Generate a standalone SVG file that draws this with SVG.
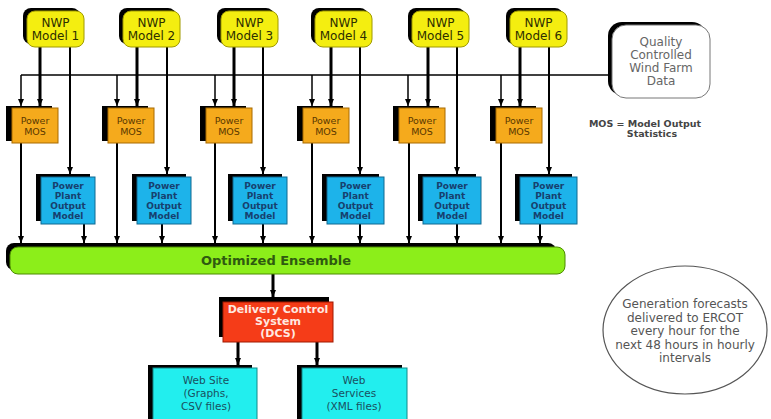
<svg xmlns="http://www.w3.org/2000/svg" width="771" height="419" viewBox="0 0 771 419">
<defs>
<marker id="ah" markerWidth="7" markerHeight="6" refX="7" refY="3" orient="auto" markerUnits="userSpaceOnUse">
<path d="M0,0 L7,3 L0,6 z" fill="#000"/>
</marker>
</defs>
<style>
.sh{fill:#000}
.nwp{fill:#f4ee10;stroke:#a09a00;stroke-width:1}
.mos{fill:#f5aa1c;stroke:#a86a00;stroke-width:1}
.ppo{fill:#1db3ea;stroke:#106890;stroke-width:1}
.ens{fill:#8cee1a;stroke:#4c8a00;stroke-width:1}
.dcs{fill:#f53c18;stroke:#a01800;stroke-width:1}
.web{fill:#22eeee;stroke:#108a8a;stroke-width:1}
.qc{fill:#fff;stroke:#777;stroke-width:1}
text{font-family:"DejaVu Sans","Liberation Sans",sans-serif;text-anchor:middle}
.tn{font-size:12px;fill:#2e2e00}
.tm{font-size:9.5px;fill:#5a3800}
.tp{font-size:9px;font-weight:bold;fill:#17406e}
.te{font-size:13px;font-weight:bold;fill:#2f5a10}
.td{font-size:11px;font-weight:bold;fill:#ffe8e0}
.tw{font-size:10.5px;fill:#1a5060}
.tq{font-size:12px;fill:#666}
.tg{font-size:12px;fill:#555}
.tk{font-size:9.5px;font-weight:bold;fill:#444}
.c{fill:none;stroke:#000;stroke-width:2}
.ct{fill:none;stroke:#000;stroke-width:3}
.cb{fill:none;stroke:#000;stroke-width:1.5}
</style>

<g id="connectors">
<!-- bus -->
<path class="cb" d="M21,75 H612"/>
<path class="cb" d="M21,75 V106" marker-end="url(#ah)"/>
<path class="cb" d="M117,75 V106" marker-end="url(#ah)"/>
<path class="cb" d="M215,75 V106" marker-end="url(#ah)"/>
<path class="cb" d="M312,75 V106" marker-end="url(#ah)"/>
<path class="cb" d="M408,75 V106" marker-end="url(#ah)"/>
<path class="cb" d="M501,75 V106" marker-end="url(#ah)"/>
<!-- NWP to MOS -->
<path class="ct" d="M40,47 V106" marker-end="url(#ah)"/>
<path class="ct" d="M137,47 V106" marker-end="url(#ah)"/>
<path class="ct" d="M234,47 V106" marker-end="url(#ah)"/>
<path class="ct" d="M331,47 V106" marker-end="url(#ah)"/>
<path class="ct" d="M428,47 V106" marker-end="url(#ah)"/>
<path class="ct" d="M520,47 V106" marker-end="url(#ah)"/>
<!-- NWP to PPO -->
<path class="c" d="M70,47 V174" marker-end="url(#ah)"/>
<path class="c" d="M167,47 V174" marker-end="url(#ah)"/>
<path class="c" d="M263,47 V174" marker-end="url(#ah)"/>
<path class="c" d="M360,47 V174" marker-end="url(#ah)"/>
<path class="c" d="M457,47 V174" marker-end="url(#ah)"/>
<path class="c" d="M549,47 V174" marker-end="url(#ah)"/>
<!-- MOS to ensemble -->
<path class="c" d="M21,143 V243" marker-end="url(#ah)"/>
<path class="c" d="M117,143 V243" marker-end="url(#ah)"/>
<path class="c" d="M215,143 V243" marker-end="url(#ah)"/>
<path class="c" d="M312,143 V243" marker-end="url(#ah)"/>
<path class="c" d="M409,143 V243" marker-end="url(#ah)"/>
<path class="c" d="M501,143 V243" marker-end="url(#ah)"/>
<!-- PPO to ensemble -->
<path class="c" d="M84,224 V243" marker-end="url(#ah)"/>
<path class="c" d="M162,224 V243" marker-end="url(#ah)"/>
<path class="c" d="M263,224 V243" marker-end="url(#ah)"/>
<path class="c" d="M360,224 V243" marker-end="url(#ah)"/>
<path class="c" d="M457,224 V243" marker-end="url(#ah)"/>
<path class="c" d="M540,224 V243" marker-end="url(#ah)"/>
<!-- ensemble to DCS -->
<path class="ct" d="M273,273 V297" marker-end="url(#ah)"/>
<!-- DCS to web -->
<path class="ct" d="M238,342 V365" marker-end="url(#ah)"/>
<path class="ct" d="M317,342 V365" marker-end="url(#ah)"/>
</g>

<g id="nwp1"><rect class="sh" x="23" y="8" width="57" height="36" rx="8"/><rect class="nwp" x="27" y="11" width="57" height="36" rx="8"/><text class="tn" x="55.5" y="27">NWP</text><text class="tn" x="55.5" y="40">Model 1</text></g>
<g id="nwp2"><rect class="sh" x="119" y="8" width="57" height="36" rx="8"/><rect class="nwp" x="123" y="11" width="57" height="36" rx="8"/><text class="tn" x="151.5" y="27">NWP</text><text class="tn" x="151.5" y="40">Model 2</text></g>
<g id="nwp3"><rect class="sh" x="217" y="8" width="57" height="36" rx="8"/><rect class="nwp" x="221" y="11" width="57" height="36" rx="8"/><text class="tn" x="249.5" y="27">NWP</text><text class="tn" x="249.5" y="40">Model 3</text></g>
<g id="nwp4"><rect class="sh" x="311" y="8" width="57" height="36" rx="8"/><rect class="nwp" x="315" y="11" width="57" height="36" rx="8"/><text class="tn" x="343.5" y="27">NWP</text><text class="tn" x="343.5" y="40">Model 4</text></g>
<g id="nwp5"><rect class="sh" x="408" y="8" width="57" height="36" rx="8"/><rect class="nwp" x="412" y="11" width="57" height="36" rx="8"/><text class="tn" x="440.5" y="27">NWP</text><text class="tn" x="440.5" y="40">Model 5</text></g>
<g id="nwp6"><rect class="sh" x="506" y="8" width="57" height="36" rx="8"/><rect class="nwp" x="510" y="11" width="57" height="36" rx="8"/><text class="tn" x="538.5" y="27">NWP</text><text class="tn" x="538.5" y="40">Model 6</text></g>

<g id="qc"><rect class="sh" x="608" y="22" width="98" height="73" rx="14"/><rect class="qc" x="612" y="25" width="98" height="73" rx="14"/><text class="tq" x="661" y="46">Quality</text><text class="tq" x="661" y="59">Controlled</text><text class="tq" x="661" y="72">Wind Farm</text><text class="tq" x="661" y="85">Data</text></g>

<g id="mos1"><rect class="sh" x="6" y="106" width="46" height="35"/><rect class="mos" x="12" y="108" width="46" height="35"/><text class="tm" x="35" y="124">Power</text><text class="tm" x="35" y="135">MOS</text></g>
<g id="mos2"><rect class="sh" x="102" y="106" width="46" height="35"/><rect class="mos" x="108" y="108" width="46" height="35"/><text class="tm" x="131" y="124">Power</text><text class="tm" x="131" y="135">MOS</text></g>
<g id="mos3"><rect class="sh" x="200" y="106" width="46" height="35"/><rect class="mos" x="206" y="108" width="46" height="35"/><text class="tm" x="229" y="124">Power</text><text class="tm" x="229" y="135">MOS</text></g>
<g id="mos4"><rect class="sh" x="297" y="106" width="46" height="35"/><rect class="mos" x="303" y="108" width="46" height="35"/><text class="tm" x="326" y="124">Power</text><text class="tm" x="326" y="135">MOS</text></g>
<g id="mos5"><rect class="sh" x="393" y="106" width="46" height="35"/><rect class="mos" x="399" y="108" width="46" height="35"/><text class="tm" x="422" y="124">Power</text><text class="tm" x="422" y="135">MOS</text></g>
<g id="mos6"><rect class="sh" x="490" y="106" width="46" height="35"/><rect class="mos" x="496" y="108" width="46" height="35"/><text class="tm" x="519" y="124">Power</text><text class="tm" x="519" y="135">MOS</text></g>

<g id="legend"><text class="tk" x="645" y="127">MOS = Model Output</text><text class="tk" x="652" y="137">Statistics</text></g>

<g id="ppo1"><rect class="sh" x="36" y="174" width="54" height="47"/><rect class="ppo" x="41" y="177" width="54" height="47"/><text class="tp" x="68" y="189">Power</text><text class="tp" x="68" y="199">Plant</text><text class="tp" x="68" y="209">Output</text><text class="tp" x="68" y="219">Model</text></g>
<g id="ppo2"><rect class="sh" x="132" y="174" width="54" height="47"/><rect class="ppo" x="137" y="177" width="54" height="47"/><text class="tp" x="164" y="189">Power</text><text class="tp" x="164" y="199">Plant</text><text class="tp" x="164" y="209">Output</text><text class="tp" x="164" y="219">Model</text></g>
<g id="ppo3"><rect class="sh" x="228" y="174" width="54" height="47"/><rect class="ppo" x="233" y="177" width="54" height="47"/><text class="tp" x="260" y="189">Power</text><text class="tp" x="260" y="199">Plant</text><text class="tp" x="260" y="209">Output</text><text class="tp" x="260" y="219">Model</text></g>
<g id="ppo4"><rect class="sh" x="322" y="174" width="57" height="47"/><rect class="ppo" x="327" y="177" width="57" height="47"/><text class="tp" x="355.5" y="189">Power</text><text class="tp" x="355.5" y="199">Plant</text><text class="tp" x="355.5" y="209">Output</text><text class="tp" x="355.5" y="219">Model</text></g>
<g id="ppo5"><rect class="sh" x="418" y="174" width="58" height="47"/><rect class="ppo" x="423" y="177" width="58" height="47"/><text class="tp" x="452" y="189">Power</text><text class="tp" x="452" y="199">Plant</text><text class="tp" x="452" y="209">Output</text><text class="tp" x="452" y="219">Model</text></g>
<g id="ppo6"><rect class="sh" x="515" y="174" width="57" height="47"/><rect class="ppo" x="520" y="177" width="57" height="47"/><text class="tp" x="548.5" y="189">Power</text><text class="tp" x="548.5" y="199">Plant</text><text class="tp" x="548.5" y="209">Output</text><text class="tp" x="548.5" y="219">Model</text></g>

<g id="ensemble"><rect class="sh" x="6" y="243" width="550" height="27" rx="8"/><rect class="ens" x="10" y="247" width="555" height="27" rx="8"/><text class="te" x="276" y="265">Optimized Ensemble</text></g>

<g id="dcs"><rect class="sh" x="219" y="297" width="110" height="40"/><rect class="dcs" x="223" y="302" width="110" height="40"/><text class="td" x="278" y="313">Delivery Control</text><text class="td" x="278" y="325">System</text><text class="td" x="278" y="337">(DCS)</text></g>

<g id="website"><rect class="sh" x="148" y="365" width="104" height="60"/><rect class="web" x="153" y="368" width="104" height="60"/><text class="tw" x="206" y="384">Web Site</text><text class="tw" x="206" y="397">(Graphs,</text><text class="tw" x="206" y="410">CSV files)</text></g>
<g id="webservices"><rect class="sh" x="297" y="365" width="105" height="60"/><rect class="web" x="302" y="368" width="105" height="60"/><text class="tw" x="354" y="384">Web</text><text class="tw" x="354" y="397">Services</text><text class="tw" x="354" y="410">(XML files)</text></g>

<g id="note"><ellipse cx="685" cy="330" rx="82" ry="64" fill="#fff" stroke="#555" stroke-width="1.2"/><text class="tg" x="685" y="308">Generation forecasts</text><text class="tg" x="685" y="322">delivered to ERCOT</text><text class="tg" x="685" y="335">every hour for the</text><text class="tg" x="685" y="349">next 48 hours in hourly</text><text class="tg" x="685" y="362">intervals</text></g>
</svg>
